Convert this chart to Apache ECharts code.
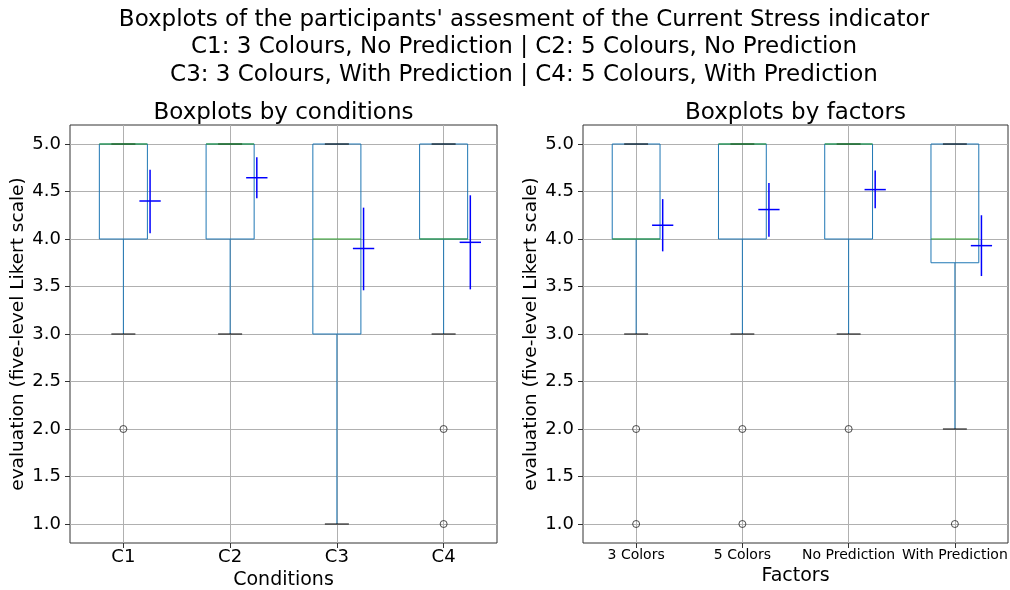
<!DOCTYPE html>
<html>
<head>
<meta charset="utf-8">
<title>Current Stress boxplots</title>
<script src="https://cdn.jsdelivr.net/npm/echarts@6.0.0/dist/echarts.min.js"></script>
<style>
  html, body { margin: 0; padding: 0; background: #fff; }
  #chart { width: 1010px; height: 590px; }
</style>
</head>
<body>
<div id="chart"></div>
<script>
// --- data ---
const conditions = ['C1', 'C2', 'C3', 'C4'];
const condWhiskerLow = [3, 3, 1, 3];
const condQ1 = [4, 4, 3, 4];
const condMedian = [5, 5, 4, 4];
const condQ3 = [5, 5, 5, 5];
const condWhiskerHigh = [5, 5, 5, 5];
const condOutliers = [[2], [], [], [2, 1]];
const condMean = [4.40, 4.645, 3.90, 3.965];
const condErrLow = [4.06, 4.43, 3.46, 3.47];
const condErrHigh = [4.73, 4.86, 4.33, 4.46];

const factors = ['3 Colors', '5 Colors', 'No Prediction', 'With Prediction'];
const facWhiskerLow = [3, 3, 3, 2];
const facQ1 = [4, 4, 4, 3.75];
const facMedian = [4, 5, 5, 4];
const facQ3 = [5, 5, 5, 5];
const facWhiskerHigh = [5, 5, 5, 5];
const facOutliers = [[2, 1], [2, 1], [2], [1]];
const facMean = [4.145, 4.31, 4.52, 3.93];
const facErrLow = [3.87, 4.025, 4.325, 3.61];
const facErrHigh = [4.42, 4.59, 4.72, 4.25];

const yTicks = [1.0, 1.5, 2.0, 2.5, 3.0, 3.5, 4.0, 4.5, 5.0];
const catTicks = [0, 1, 2, 3];

const mainTitle = "Boxplots of the participants' assesment of the Current Stress indicator\n" +
  'C1: 3 Colours, No Prediction | C2: 5 Colours, No Prediction\n' +
  'C3: 3 Colours, With Prediction | C4: 5 Colours, With Prediction';

// --- styles ---
const FONT = 'DejaVu Sans';
const BLUE = '#1f77b4';
const GREEN = '#2ca02c';
const GRIDC = '#b0b0b0';
const FRAME = '#333';

function boxRows(low, q1, med, q3, high) {
  return low.map((v, i) => [i, v, q1[i], med[i], q3[i], high[i]]);
}
function errRows(mean, lo, hi) {
  return mean.map((m, i) => [i, m, lo[i], hi[i]]);
}
function outlierRows(list) {
  const rows = [];
  list.forEach((vals, i) => vals.forEach(v => rows.push([i, v])));
  return rows;
}

function line(x1, y1, x2, y2, color, w) {
  return { type: 'line', shape: { x1, y1, x2, y2 }, style: { stroke: color, lineWidth: w || 1 } };
}

// box + whiskers + caps + median, pandas style
function renderBox(params, api) {
  const i = api.value(0);
  const unit = api.size([1, 0])[0];
  const x = api.coord([i, api.value(2)])[0];
  const yLow = api.coord([i, api.value(1)])[1];
  const yQ1 = api.coord([i, api.value(2)])[1];
  const yMed = api.coord([i, api.value(3)])[1];
  const yQ3 = api.coord([i, api.value(4)])[1];
  const yHigh = api.coord([i, api.value(5)])[1];
  const hw = unit * 0.225;
  const cw = unit * 0.1125;
  return {
    type: 'group',
    children: [
      line(x, yQ1, x, yLow, BLUE),
      line(x, yQ3, x, yHigh, BLUE),
      { type: 'rect', shape: { x: x - hw, y: yQ3, width: 2 * hw, height: yQ1 - yQ3 },
        style: { fill: 'none', stroke: BLUE, lineWidth: 1 } },
      line(x - cw, yLow, x + cw, yLow, '#000'),
      line(x - cw, yHigh, x + cw, yHigh, '#000'),
      line(x - hw, yMed, x + hw, yMed, GREEN)
    ]
  };
}

// mean cross with error bar, shifted right of the box
function renderErr(params, api) {
  const i = api.value(0) + 0.25;
  const unit = api.size([1, 0])[0];
  const pm = api.coord([i, api.value(1)]);
  const plo = api.coord([i, api.value(2)]);
  const phi = api.coord([i, api.value(3)]);
  const hw = unit * 0.1;
  return {
    type: 'group',
    children: [
      line(pm[0], plo[1], pm[0], phi[1], '#0000ff', 1.5),
      line(pm[0] - hw, pm[1], pm[0] + hw, pm[1], '#0000ff', 1.5)
    ]
  };
}

function xAxisFor(gridIndex, names, title, labelSize, nameGap) {
  return {
    type: 'value', gridIndex, min: -0.5, max: 3.5,
    axisLine: { show: false, onZero: false },
    axisTick: { show: true, customValues: catTicks, length: 5, lineStyle: { color: FRAME } },
    axisLabel: { customValues: catTicks, formatter: v => names[Math.round(v)],
      fontFamily: FONT, fontSize: labelSize, color: '#000', margin: 5 },
    splitLine: { show: true, lineStyle: { color: GRIDC, width: 1 } },
    name: title, nameLocation: 'middle', nameGap,
    nameTextStyle: { fontFamily: FONT, fontSize: 19, color: '#000' }
  };
}
function yAxisFor(gridIndex) {
  return {
    type: 'value', gridIndex, min: 0.8, max: 5.2,
    axisLine: { show: false, onZero: false },
    axisTick: { show: true, customValues: yTicks, length: 5, lineStyle: { color: FRAME } },
    axisLabel: { customValues: yTicks, formatter: v => v.toFixed(1),
      fontFamily: FONT, fontSize: 18, color: '#000', margin: 9 },
    splitLine: { show: true, lineStyle: { color: GRIDC, width: 1 } },
    name: 'evaluation (five-level Likert scale)', nameLocation: 'middle', nameGap: 42,
    nameTextStyle: { fontFamily: FONT, fontSize: 18.5, color: '#000' }
  };
}

const chart = echarts.init(document.getElementById('chart'), null, { renderer: 'canvas' });
chart.setOption({
  animation: false,
  backgroundColor: '#fff',
  graphic: [
    { type: 'text', x: 524, y: 6, style: { text: mainTitle, fontFamily: FONT, fontSize: 23,
      lineHeight: 27.5, fill: '#000', align: 'center', verticalAlign: 'top' } },
    { type: 'text', x: 283.5, y: 113, style: { text: 'Boxplots by conditions', fontFamily: FONT,
      fontSize: 23, fill: '#000', align: 'center', verticalAlign: 'middle' } },
    { type: 'text', x: 795.5, y: 113, style: { text: 'Boxplots by factors', fontFamily: FONT,
      fontSize: 23, fill: '#000', align: 'center', verticalAlign: 'middle' } }
  ],
  grid: [
    { left: 70, top: 125, width: 427, height: 418, outerBoundsMode: 'none',
      show: true, borderColor: FRAME, borderWidth: 1, backgroundColor: 'transparent' },
    { left: 583, top: 125, width: 425, height: 418, outerBoundsMode: 'none',
      show: true, borderColor: FRAME, borderWidth: 1, backgroundColor: 'transparent' }
  ],
  xAxis: [
    xAxisFor(0, conditions, 'Conditions', 18, 25),
    xAxisFor(1, factors, 'Factors', 14, 18)
  ],
  yAxis: [yAxisFor(0), yAxisFor(1)],
  series: [
    { type: 'custom', xAxisIndex: 0, yAxisIndex: 0, renderItem: renderBox,
      data: boxRows(condWhiskerLow, condQ1, condMedian, condQ3, condWhiskerHigh) },
    { type: 'custom', xAxisIndex: 0, yAxisIndex: 0, renderItem: renderErr,
      data: errRows(condMean, condErrLow, condErrHigh) },
    { type: 'scatter', xAxisIndex: 0, yAxisIndex: 0, symbol: 'circle', symbolSize: 7,
      itemStyle: { color: 'rgba(0,0,0,0)', borderColor: '#222', borderWidth: 1 },
      data: outlierRows(condOutliers) },
    { type: 'custom', xAxisIndex: 1, yAxisIndex: 1, renderItem: renderBox,
      data: boxRows(facWhiskerLow, facQ1, facMedian, facQ3, facWhiskerHigh) },
    { type: 'custom', xAxisIndex: 1, yAxisIndex: 1, renderItem: renderErr,
      data: errRows(facMean, facErrLow, facErrHigh) },
    { type: 'scatter', xAxisIndex: 1, yAxisIndex: 1, symbol: 'circle', symbolSize: 7,
      itemStyle: { color: 'rgba(0,0,0,0)', borderColor: '#222', borderWidth: 1 },
      data: outlierRows(facOutliers) }
  ]
});
</script>
</body>
</html>
